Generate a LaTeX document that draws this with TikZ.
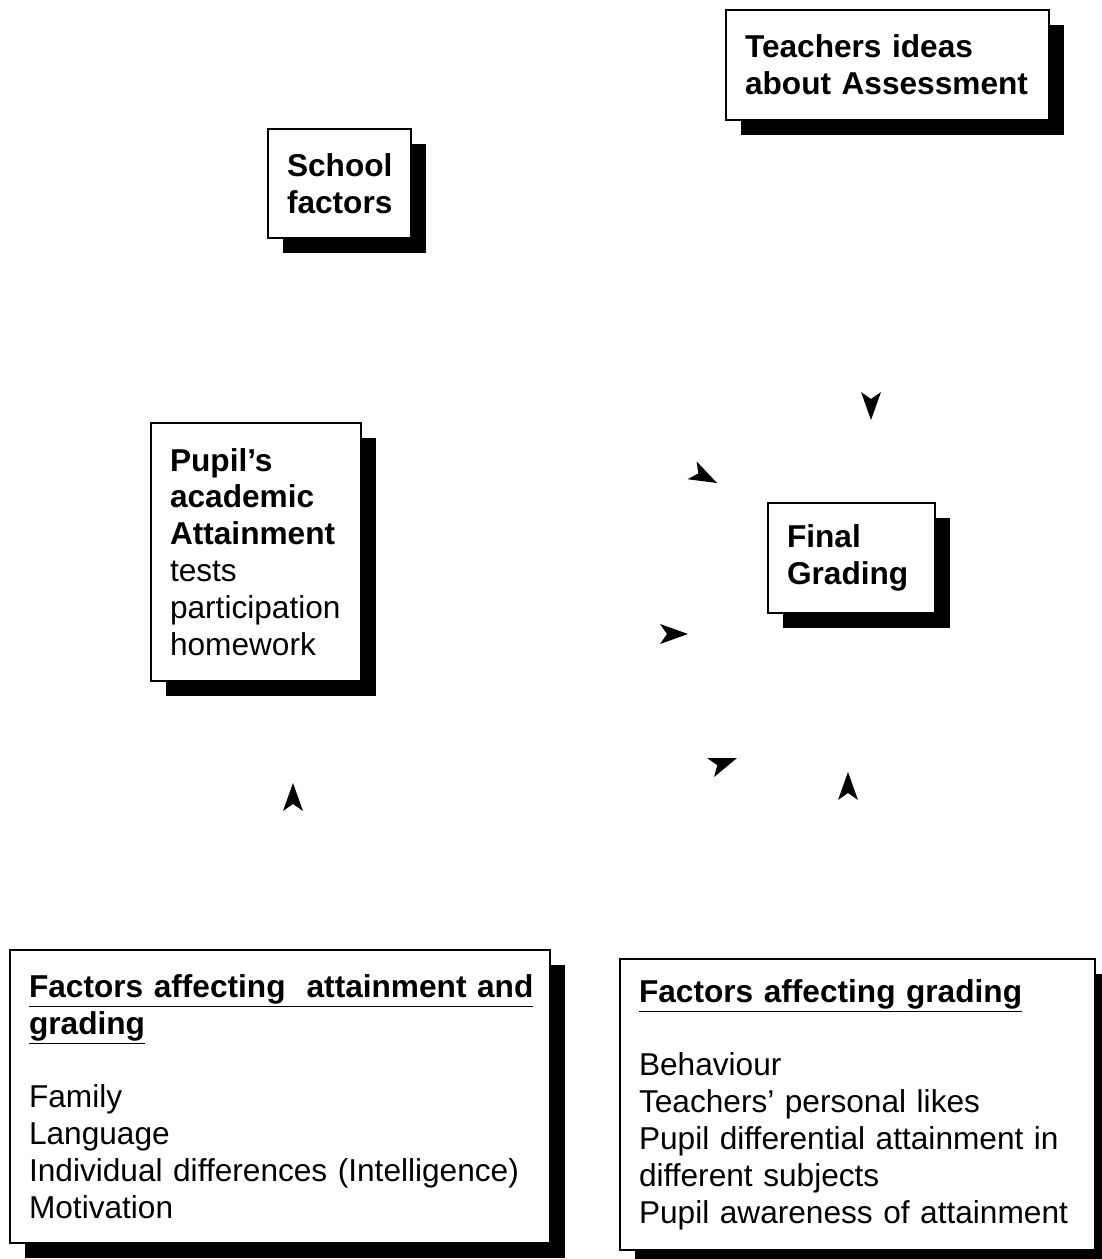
\documentclass[tikz,border=0pt]{standalone}
\usepackage{fontspec}
\setmainfont{Liberation Sans}
\usetikzlibrary{shadows}
\newcommand\boxfont{\fontsize{18}{21}\selectfont\hyphenpenalty=10000\relax\exhyphenpenalty=10000\relax}
\tikzset{
  box/.style={draw=black,fill=white,line width=1.1pt,align=left,
    inner xsep=0.38cm,inner ysep=0pt,font=\boxfont,
    drop shadow={shadow xshift=0.3cm,shadow yshift=-0.3cm,fill=black,opacity=1}},
  % arrow heads, tip at the origin pointing along +x
  pics/head/.style={code={
    \fill[black] (0,0) -- (-28,-10) -- (-21,0) -- (-28,10) -- cycle;
  }},
}

\begin{document}
\begin{tikzpicture}[x=0.02cm,y=-0.02cm]
  \useasboundingbox[fill=white] (0,0) rectangle (1102,1259);
  % boxes
  \node[box,text width=5.7cm,minimum height=2.2cm] (teach) at (887.5,65)
    {\textbf{Teachers ideas}\\ \textbf{about Assessment}};
  \node[box,text width=2.1cm,minimum height=2.18cm] (school) at (339.5,183.5)
    {\textbf{School}\\ \textbf{factors}};
  \node[box,text width=3.44cm,minimum height=5.16cm] (pupil) at (256,552)
    {\textbf{Pupil’s}\\ \textbf{academic}\\ \textbf{Attainment}\\ tests\\ participation\\ homework};
  \node[box,text width=2.58cm,minimum height=2.2cm] (final) at (851.5,558)
    {\textbf{Final}\\ \textbf{Grading}};
  \node[box,text width=10.04cm,minimum height=5.86cm] (fattain) at (280,1096.5)
    {\textbf{\underline{Factors affecting\ \ attainment and}}\\ \textbf{\underline{grading}}\\[21pt]
     Family\\ Language\\ Individual differences (Intelligence)\\ Motivation};
  \node[box,text width=8.74cm,minimum height=5.82cm] (fgrade) at (857.5,1104.5)
    {\textbf{\underline{Factors affecting grading}}\\[21pt]
     Behaviour\\ Teachers’ personal likes\\ Pupil differential attainment in\\ different subjects\\ Pupil awareness of attainment};
  % arrow heads
  \pic[rotate=-90] at (871,420) {head};
  \pic[rotate=-27] at (717,483) {head};
  \pic at (688,634) {head};
  \pic[rotate=20] at (737,758) {head};
  \pic[rotate=90] at (848,772) {head};
  \pic[rotate=90] at (293,783) {head};
\end{tikzpicture}
\end{document}
